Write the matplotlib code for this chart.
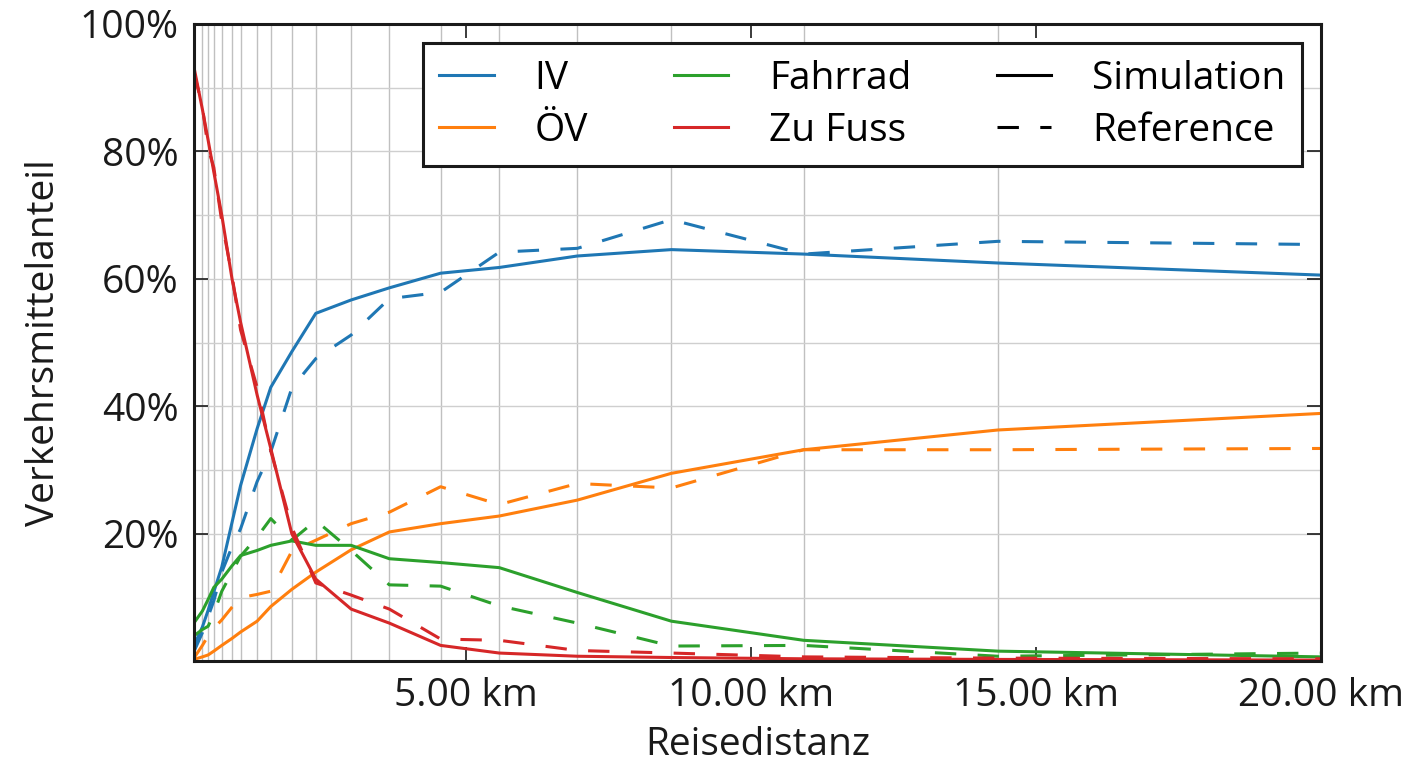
import matplotlib.pyplot as plt
import matplotlib.ticker as mticker

plt.rcParams['font.family'] = ['Open Sans', 'DejaVu Sans']
plt.rcParams['font.size'] = 28

# Reisedistanz (km) der Stuetzstellen
distanz = [0.22, 0.37, 0.47, 0.57, 0.71, 0.89, 1.04, 1.33, 1.57, 1.94,
           2.36, 2.98, 3.65, 4.55, 5.58, 6.95, 8.60, 10.92, 14.33, 20.0]

# Verkehrsmittelanteil in %, Simulation / Referenz
iv_sim = [2.4, 5.4, 8.0, 10.9, 14.8, 21.8, 27.6, 36.5, 43.0, 48.6,
          54.6, 56.7, 58.6, 60.9, 61.8, 63.6, 64.6, 63.9, 62.5, 60.6]
iv_ref = [1.5, 4.5, 7.0, 9.5, 14.0, 18.0, 20.8, 28.2, 32.9, 42.9,
          47.5, 51.2, 56.9, 57.9, 64.2, 64.8, 69.3, 63.9, 65.9, 65.4]
ov_sim = [0.3, 0.7, 1.0, 1.6, 2.5, 3.6, 4.6, 6.3, 8.6, 11.3,
          14.0, 17.5, 20.3, 21.6, 22.8, 25.3, 29.5, 33.2, 36.3, 38.9]
ov_ref = [0.5, 2.5, 4.0, 5.2, 6.5, 8.5, 10.0, 10.5, 11.0, 17.3,
          19.0, 21.6, 23.4, 27.4, 24.6, 27.9, 27.2, 33.2, 33.2, 33.4]
rad_sim = [6.0, 7.9, 9.7, 11.6, 12.9, 15.0, 16.6, 17.4, 18.2, 18.9,
           18.2, 18.2, 16.1, 15.5, 14.7, 10.8, 6.3, 3.3, 1.6, 0.7]
rad_ref = [4.0, 5.0, 5.5, 7.5, 11.0, 14.0, 16.5, 19.5, 22.4, 19.0,
           22.1, 17.4, 12.0, 11.8, 8.7, 6.0, 2.4, 2.5, 0.8, 1.3]
fuss_sim = [93.3, 86.6, 81.8, 76.8, 70.0, 60.0, 53.2, 41.8, 33.4, 20.0,
            12.9, 8.2, 6.0, 2.5, 1.3, 0.8, 0.6, 0.4, 0.3, 0.2]
fuss_ref = [92.5, 87.0, 80.5, 77.5, 69.0, 60.5, 52.0, 43.0, 33.0, 21.0,
            12.3, 10.4, 8.2, 3.5, 3.3, 1.7, 1.3, 0.7, 0.5, 0.4]

modi = ['IV', 'ÖV', 'Fahrrad', 'Zu Fuss']
farben = ['#1f77b4', '#ff7f0e', '#2ca02c', '#d62728']
sim = [iv_sim, ov_sim, rad_sim, fuss_sim]
ref = [iv_ref, ov_ref, rad_ref, fuss_ref]

fig = plt.figure(figsize=(14.15, 7.69), dpi=100)
ax = fig.add_axes([0.137, 0.140, 0.7966, 0.8288])

lw = 2.2
strich = (7, 7)
for name, farbe, s, r in zip(modi, farben, sim, ref):
    ax.plot(distanz, s, color=farbe, lw=lw, label=name)
    ax.plot(distanz, r, color=farbe, lw=lw, ls='--', dashes=strich)

ax.set_xlim(distanz[0], distanz[-1])
ax.set_ylim(0, 100)

ax.xaxis.set_major_locator(mticker.FixedLocator([5, 10, 15, 20]))
ax.xaxis.set_major_formatter(mticker.FormatStrFormatter('%.2f km'))
ax.xaxis.set_minor_locator(mticker.FixedLocator(distanz))
ax.yaxis.set_major_locator(mticker.FixedLocator([20, 40, 60, 80, 100]))
ax.yaxis.set_major_formatter(mticker.FormatStrFormatter('%d%%'))
ax.yaxis.set_minor_locator(mticker.MultipleLocator(10))

ax.tick_params(which='major', direction='in', length=10, width=1.2,
               top=True, right=True, pad=11, colors='#1a1a1a')
ax.tick_params(which='minor', length=0)
ax.grid(which='minor', axis='x', color='#c0c0c0', lw=1.0)
ax.grid(which='both', axis='y', color='#cfcfcf', lw=1.0)
ax.set_axisbelow(True)
for sp in ax.spines.values():
    sp.set_linewidth(2.2)
    sp.set_color('#1a1a1a')

ax.set_xlabel('Reisedistanz', color='#1a1a1a', labelpad=8)
ax.set_ylabel('Verkehrsmittelanteil', color='#1a1a1a', labelpad=12)

# Legende: Verkehrsmittel + Linienart
handles = [plt.Line2D([], [], color=f, lw=lw) for f in farben]
handles += [plt.Line2D([], [], color='black', lw=lw),
            plt.Line2D([], [], color='black', lw=lw, ls='--', dashes=strich)]
labels = modi + ['Simulation', 'Reference']
leg = ax.legend(handles, labels, ncol=3, loc='upper right', fancybox=False,
                framealpha=1, edgecolor='#1a1a1a', borderpad=0.42,
                labelspacing=0.36, handlelength=1.4, handletextpad=1.05,
                columnspacing=2.2, borderaxespad=0.5)
leg.get_frame().set_linewidth(2.2)

fig.savefig('out.png', dpi=100)
